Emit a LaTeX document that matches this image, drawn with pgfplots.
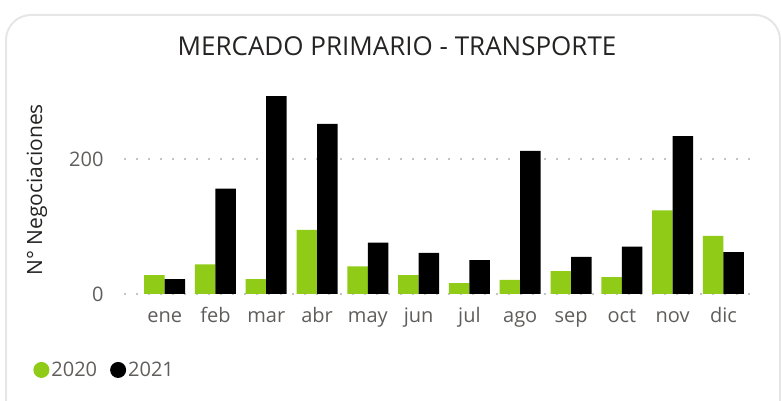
\documentclass[border=0pt]{standalone}
\usepackage{fontspec}
\setmainfont{Open Sans}
\usepackage{pgfplots}
\pgfplotsset{compat=1.18}
\definecolor{verde}{HTML}{8FCB17}
\definecolor{gristxt}{HTML}{605E5C}
\definecolor{titulo}{HTML}{252423}
\definecolor{borde}{HTML}{E6E6E6}
\definecolor{rejilla}{HTML}{C4C4C4}

\begin{document}
\begin{tikzpicture}[x=1pt,y=1pt]
\useasboundingbox (0,0) rectangle (781,401);
\clip (0,0) rectangle (781,401);
\draw[borde, line width=2pt, rounded corners=25pt] (6,-40) rectangle (780,386);
\node[titulo, font=\fontsize{26}{30}\selectfont, anchor=base] at (397,345) {MERCADO PRIMARIO - TRANSPORTE};
\begin{axis}[
    at={(124pt,107pt)}, anchor=south west,
    scale only axis, width=635pt, height=202.5pt,
    ybar=0pt, bar width=20.5pt,
    xmin=-0.8, xmax=11.7, ymin=0, ymax=300,
    axis x line*=bottom, axis y line*=left,
    axis line style={draw=none},
    major tick length=0pt,
    ytick={0,200},
    ymajorgrids,
    grid style={rejilla, line width=1.8pt, dash pattern=on 1.8pt off 10.2pt},
    xtick={0,...,11},
    xticklabels={ene,feb,mar,abr,may,jun,jul,ago,sep,oct,nov,dic},
    /pgf/number format/assume math mode=true,
    tick label style={text=gristxt, font=\fontsize{20}{24}\selectfont},
    xticklabel style={anchor=base, yshift=-29pt},
    yticklabel style={xshift=-17pt},
    ylabel={N° Negociaciones},
    ylabel style={at={(axis description cs:-0.137,0.514)}, anchor=center, text=titulo, font=\fontsize{21}{24}\selectfont},
    legend image code/.code={\fill[#1] (8pt,0pt) circle (8pt);},
    legend style={at={(axis description cs:-0.143,-0.375)}, anchor=west, draw=none, fill=none,
      text=gristxt, font=\fontsize{20}{24}\selectfont, inner sep=0pt,
      /tikz/every even column/.append style={column sep=11pt}},
    legend columns=-1,
]
\addplot[fill=verde, draw=none] coordinates {
  (0,28) (1,44) (2,22) (3,95) (4,41) (5,28) (6,16) (7,21) (8,34) (9,25) (10,124) (11,86)};
\addplot[fill=black, draw=none] coordinates {
  (0,22) (1,156) (2,293) (3,252) (4,76) (5,61) (6,50) (7,212) (8,55) (9,70) (10,234) (11,62)};
\legend{2020,2021}
\end{axis}
\end{tikzpicture}
\end{document}
